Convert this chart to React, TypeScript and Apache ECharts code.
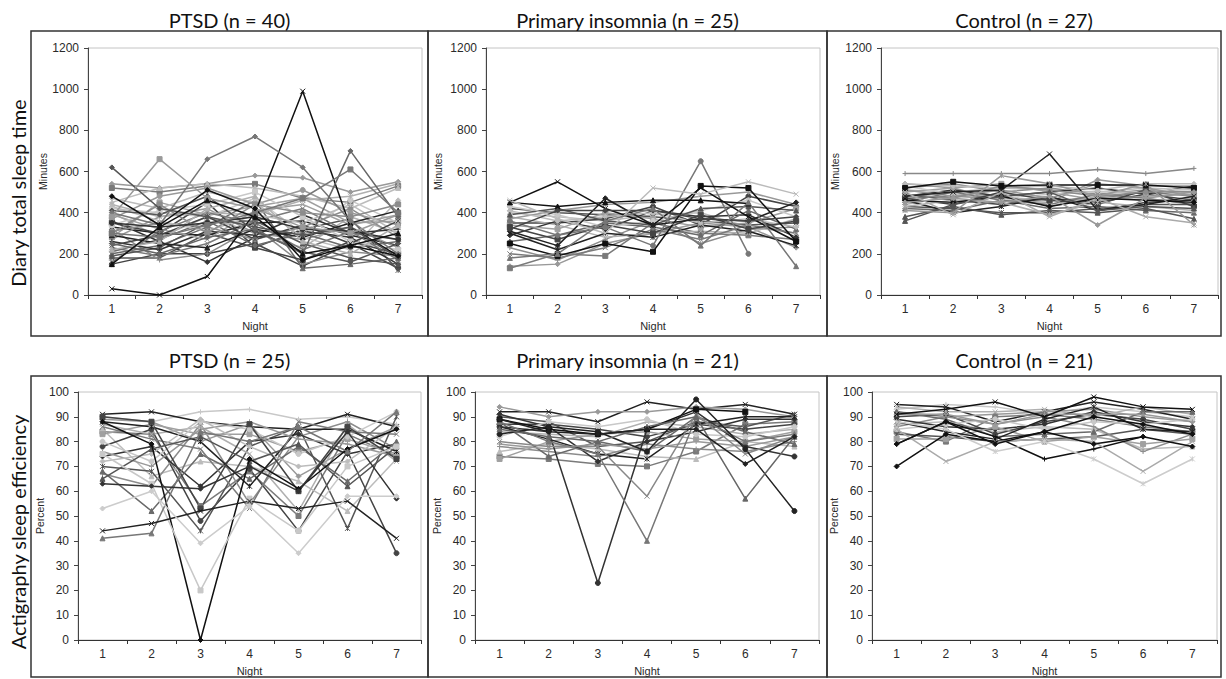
import React, { useEffect, useRef } from "react";
import * as echarts from "echarts";

// ---------- data ----------
const NIGHTS = ["1", "2", "3", "4", "5", "6", "7"];

const PANEL_TITLES = [
  "PTSD (n = 40)",
  "Primary insomnia (n = 25)",
  "Control (n = 27)",
  "PTSD (n = 25)",
  "Primary insomnia (n = 21)",
  "Control (n = 21)",
];
const ROW_TITLES = ["Diary total sleep time", "Actigraphy sleep efficiency"];
const Y_NAMES = ["Minutes", "Percent"];
const X_NAME = "Night";
const Y_RANGES = [
  { max: 1200, step: 200 },
  { max: 100, step: 10 },
];

// Diary total sleep time (minutes) – PTSD
const ptsdDiary: (number | null)[][] = [
  [30, 0, 90, 400, 990, 330, 190],
  [400, 340, 660, 770, 620, 360, 200],
  [620, 420, 380, 330, 290, 330, 180],
  [380, 660, 470, 420, 330, 300, 390],
  [250, 200, 280, 320, 200, 700, 380],
  [300, 280, 340, 400, 470, 610, 400],
  [480, 340, 510, 420, 170, 240, 190],
  [150, 330, 460, 380, 200, 240, 300],
  [540, 520, 540, 580, 570, 500, 550],
  [520, 500, 530, 540, 470, 450, 530],
  [450, 520, 540, 520, 480, 420, 520],
  [150, 200, 200, 250, 140, 250, 130],
  [180, 180, 300, 230, 320, 370, 120],
  [320, 170, 200, 330, 150, 210, 190],
  [400, 280, 380, 300, 230, 380, 300],
  [360, 260, 160, 280, 310, 280, 150],
  [280, 450, 390, 430, 470, 350, 360],
  [200, 240, 330, 460, 130, 150, 180],
  [420, 400, 380, 470, 300, 460, 350],
  [330, 300, 290, 350, 360, 290, 240],
  [270, 380, 420, 300, 270, 330, 230],
  [230, 190, 250, 360, 420, 300, 270],
  [470, 420, 500, 450, 280, 220, 460],
  [350, 300, 450, 230, 170, 260, 200],
  [190, 230, 350, 360, 250, 180, 150],
  [310, 350, 330, 270, 330, 420, 280],
  [440, 380, 400, 390, 460, 480, 540],
  [260, 220, 310, 290, 390, 300, 320],
  [390, 320, 270, 410, 440, 340, 390],
  [210, 270, 360, 240, 300, 230, 260],
  [340, 410, 440, 500, 380, 260, 220],
  [290, 250, 230, 320, 280, 350, 410],
  [370, 480, 520, 440, 510, 400, 340],
  [160, 310, 400, 350, 220, 310, 170],
  [430, 360, 310, 390, 350, 440, 300],
  [240, 290, 380, 270, 340, 250, 360],
  [410, 390, 480, 310, 210, 160, 250],
  [300, 440, 300, 440, 400, 380, 440],
  [220, 260, 420, 480, 260, 200, 340],
  [350, 330, 350, 380, 320, 310, 270],
];

// Diary total sleep time – Primary insomnia
const piDiary: (number | null)[][] = [
  [360, 290, 330, 240, 650, 200, null],
  [450, 550, 420, 340, 520, 380, 260],
  [250, 190, 250, 210, 530, 520, 260],
  [310, 240, 470, 340, 370, 360, 450],
  [450, 430, 450, 460, 460, 445, null],
  [320, 410, 410, 410, 370, 360, 380],
  [460, 370, 300, 520, 490, 550, 490],
  [180, 200, 360, 420, 240, 450, 140],
  [140, 150, 250, 300, 350, 330, 230],
  [130, 200, 190, 350, 300, 290, 270],
  [400, 380, 360, 390, 400, 330, 300],
  [350, 350, 370, 430, 340, 480, 430],
  [420, 400, 390, 380, 360, 340, 350],
  [230, 170, 270, 360, 250, 320, 330],
  [380, 340, 280, 300, 310, 300, 370],
  [290, 360, 320, 410, 380, 390, 280],
  [340, 320, 400, 370, 330, 350, 420],
  [260, 290, 350, 330, 290, 410, 320],
  [430, 390, 330, 360, 410, 460, 380],
  [300, 220, 300, 280, 340, 310, 240],
  [370, 410, 440, 450, 480, 500, 440],
  [200, 180, 230, 320, 270, 340, 300],
  [410, 360, 380, 400, 350, 370, 330],
  [330, 270, 340, 300, 390, 320, 360],
  [390, 420, 360, 340, 420, 430, 410],
];

// Diary total sleep time – Control
const ctrlDiary: (number | null)[][] = [
  [480, 500, 510, 685, 410, 440, 480],
  [590, 590, 590, 590, 610, 590, 615],
  [520, 550, 530, 535, 535, 535, 520],
  [460, 450, 480, 430, 470, 460, 450],
  [360, 440, 480, 500, 410, 430, 420],
  [410, 400, 580, 540, 480, 540, 340],
  [450, 470, 450, 480, 340, 470, 500],
  [500, 390, 500, 380, 470, 380, 350],
  [540, 520, 460, 450, 560, 530, 530],
  [470, 480, 470, 460, 470, 500, 480],
  [510, 500, 520, 510, 500, 520, 510],
  [490, 460, 440, 470, 450, 490, 460],
  [430, 420, 400, 400, 420, 440, 440],
  [520, 540, 500, 520, 490, 510, 500],
  [440, 480, 490, 430, 480, 460, 470],
  [480, 510, 480, 500, 520, 490, 530],
  [500, 520, 540, 500, 460, 480, 490],
  [420, 410, 460, 420, 430, 410, 400],
  [530, 490, 470, 490, 500, 500, 520],
  [460, 400, 430, 480, 410, 450, 460],
  [510, 480, 510, 470, 540, 520, 480],
  [450, 500, 460, 440, 490, 470, 440],
  [540, 530, 520, 530, 510, 540, 540],
  [470, 440, 500, 460, 440, 510, 430],
  [380, 430, 390, 410, 400, 420, 370],
  [490, 470, 530, 510, 480, 500, 500],
  [430, 460, 450, 390, 450, 430, 410],
];

// Actigraphy sleep efficiency (%) – PTSD
const ptsdActi: (number | null)[][] = [
  [88, 79, 0, 73, 61, 77, 85],
  [75, 63, 20, 57, 44, 70, 78],
  [41, 43, 84, 80, 86, 76, 92],
  [44, 47, 52, 56, 53, 56, 41],
  [63, 62, 61, 70, 60, 84, 57],
  [53, 60, 39, 54, 35, 58, 58],
  [90, 88, 92, 93, 89, 90, 87],
  [91, 92, 88, 86, 85, 91, 86],
  [89, 88, 80, 87, 66, 77, 86],
  [84, 83, 54, 68, 50, 83, 74],
  [85, 66, 72, 70, 64, 52, 73],
  [78, 85, 48, 69, 44, 76, 35],
  [70, 68, 44, 78, 86, 45, 90],
  [67, 62, 87, 55, 82, 88, 77],
  [87, 83, 86, 75, 52, 87, 72],
  [74, 78, 62, 80, 83, 75, 79],
  [83, 87, 83, 83, 76, 81, 75],
  [68, 52, 75, 65, 78, 64, 80],
  [80, 72, 88, 85, 75, 82, 92],
  [88, 86, 80, 62, 85, 85, 76],
  [76, 70, 85, 88, 81, 79, 74],
  [86, 81, 77, 53, 88, 84, 83],
  [72, 75, 89, 78, 70, 72, 86],
  [90, 88, 53, 87, 60, 86, 73],
  [65, 77, 82, 72, 79, 62, 78],
];

// Actigraphy sleep efficiency – Primary insomnia
const piActi: (number | null)[][] = [
  [86, 84, 23, 85, 92, 78, 74],
  [88, 80, 75, 40, 90, 80, 83],
  [89, 85, 83, 85, 93, 92, null],
  [80, 78, 78, 58, 91, 75, 82],
  [83, 86, 84, 76, 97, 77, 52],
  [85, 82, 80, 86, 90, 57, 82],
  [89, 84, 83, 85, 85, 71, 82],
  [92, 92, 88, 96, 93, 95, 91],
  [94, 90, 92, 92, 94, 93, 90],
  [74, 73, 71, 70, 76, 87, 88],
  [76, 79, 77, 74, 73, 80, 78],
  [87, 87, 85, 82, 87, 85, 87],
  [90, 88, 78, 80, 88, 86, 91],
  [78, 76, 74, 79, 77, 76, 80],
  [84, 83, 82, 88, 86, 83, 85],
  [91, 86, 72, 80, 84, 89, 89],
  [73, 80, 83, 84, 81, 80, 84],
  [88, 74, 80, 76, 90, 84, 79],
  [82, 88, 86, 89, 83, 82, 86],
  [86, 81, 75, 73, 87, 90, 90],
  [79, 77, 79, 77, 80, 78, 82],
];

// Actigraphy sleep efficiency – Control
const ctrlActi: (number | null)[][] = [
  [70, 83, 80, 84, 90, 87, 83],
  [79, 88, 82, 73, 77, 82, null],
  [85, 72, 80, 81, 80, 68, 80],
  [88, 85, 76, 80, 73, 63, 73],
  [91, 93, 96, 90, 98, 94, 93],
  [79, 88, 79, 84, 79, 82, 78],
  [93, 95, 94, 91, 94, 92, 90],
  [95, 94, 88, 92, 96, 93, 89],
  [92, 90, 91, 92, 93, 90, 88],
  [84, 80, 90, 91, 89, 86, 84],
  [87, 88, 84, 86, 85, 77, 78],
  [90, 91, 83, 88, 91, 89, 85],
  [83, 82, 80, 81, 82, 85, 83],
  [86, 90, 87, 90, 86, 76, 83],
  [94, 92, 92, 93, 90, 94, 91],
  [89, 86, 85, 87, 92, 88, 86],
  [81, 81, 86, 80, 82, 79, 81],
  [92, 89, 82, 83, 84, 92, 92],
  [85, 87, 89, 85, 88, 87, 89],
  [88, 84, 81, 89, 94, 85, 84],
  [91, 91, 87, 91, 91, 91, 88],
];

const PANELS = [ptsdDiary, piDiary, ctrlDiary, ptsdActi, piActi, ctrlActi];

// ---------- styles ----------
const GREYS = ["#555555", "#8c8c8c", "#b0b0b0", "#333333", "#a0a0a0", "#6a6a6a", "#c8c8c8", "#222222", "#999999", "#7a7a7a", "#bcbcbc", "#444444"];
const X_SYM = "path://M0,0L10,10M10,0L0,10";
const STAR_SYM = "path://M0,0L10,10M10,0L0,10M5,0L5,10";
const PLUS_SYM = "path://M5,0L5,10M0,5L10,5";
const MARKERS = [X_SYM, "diamond", "rect", "triangle", "circle", STAR_SYM, PLUS_SYM];

// [colour, marker index] for the first, most visible series of each panel
const STYLE_OVERRIDES: [string, number][][] = [
  [["#111", 0], ["#777", 1], ["#555", 1], ["#9a9a9a", 2], ["#666", 1], ["#777", 2], ["#111", 1], ["#111", 3]],
  [["#777", 4], ["#111", 0], ["#111", 2], ["#222", 1], ["#111", 3], ["#444", 1], ["#bbb", 0], ["#777", 3]],
  [["#222", 0], ["#888", 6], ["#111", 2], ["#111", 1], ["#555", 3], ["#999", 5], ["#999", 1], ["#aaa", 0]],
  [["#111", 1], ["#c8c8c8", 2], ["#777", 3], ["#222", 0], ["#333", 1], ["#ccc", 1]],
  [["#333", 4], ["#777", 3], ["#111", 2], ["#888", 0], ["#222", 4], ["#666", 3], ["#222", 1]],
  [["#111", 1], ["#111", 6], ["#aaa", 0], ["#ccc", 5], ["#111", 0], ["#111", 1]],
];

const GRIDS = [
  { left: 88, top: 48, width: 334, height: 247 },
  { left: 486, top: 48, width: 334, height: 247 },
  { left: 881, top: 48, width: 337, height: 247 },
  { left: 78, top: 392, width: 343, height: 248 },
  { left: 475, top: 392, width: 344, height: 248 },
  { left: 872, top: 392, width: 345, height: 248 },
];
const Y_NAME_GAPS = [40, 43, 41, 31, 33, 33];
const BOXES = [
  [31, 31, 428, 336],
  [428, 31, 827, 336],
  [827, 31, 1221, 336],
  [31, 376, 428, 677],
  [428, 376, 827, 677],
  [827, 376, 1221, 677],
];
const TITLE_Y = [20, 20, 20, 360, 360, 360];

const TICK_FONT = "Liberation Sans, Arial, sans-serif";
const TITLE_FONT = "Lato, 'Open Sans', sans-serif";

function buildOption() {
  const grid = GRIDS.map((g) => ({
    ...g,
    show: true,
    borderColor: "#c4c4c4",
    borderWidth: 1,
    containLabel: false,
  }));
  const xAxis = GRIDS.map((_, p) => ({
    type: "category",
    gridIndex: p,
    data: NIGHTS,
    boundaryGap: true,
    axisLine: { show: true, lineStyle: { color: "#333", width: 1 } },
    axisTick: { show: true, length: 4, lineStyle: { color: "#333" } },
    axisLabel: { fontSize: 12, color: "#2a2a2a", fontFamily: TICK_FONT, margin: 8 },
    name: X_NAME,
    nameLocation: "middle",
    nameGap: 25,
    nameTextStyle: { fontSize: 11, color: "#2a2a2a", fontFamily: TICK_FONT },
    splitLine: { show: false },
  }));
  const yAxis = GRIDS.map((_, p) => {
    const r = Y_RANGES[p < 3 ? 0 : 1];
    return {
      type: "value",
      gridIndex: p,
      min: 0,
      max: r.max,
      interval: r.step,
      axisLine: { show: true, lineStyle: { color: "#444", width: 1 } },
      axisTick: { show: true, length: 4, lineStyle: { color: "#444" } },
      axisLabel: {
        fontSize: 12,
        color: "#2a2a2a",
        fontFamily: TICK_FONT,
        margin: 9,
        formatter: (v: number) => String(v),
      },
      splitLine: { show: false },
      name: Y_NAMES[p < 3 ? 0 : 1],
      nameLocation: "middle",
      nameGap: Y_NAME_GAPS[p],
      nameRotate: 90,
      nameTextStyle: { fontSize: 10.5, color: "#2a2a2a", fontFamily: TICK_FONT },
    };
  });
  const series: any[] = [];
  PANELS.forEach((rows, p) => {
    rows.forEach((vals, i) => {
      const ov = STYLE_OVERRIDES[p][i];
      const c = ov ? ov[0] : GREYS[i % GREYS.length];
      const m = ov ? MARKERS[ov[1]] : MARKERS[i % MARKERS.length];
      series.push({
        type: "line",
        xAxisIndex: p,
        yAxisIndex: p,
        data: vals,
        symbol: m,
        symbolSize: 5,
        showSymbol: true,
        connectNulls: false,
        silent: true,
        lineStyle: { color: c, width: 1.5 },
        itemStyle: { color: c, borderColor: c, borderWidth: 1 },
        z: ov ? 4 : 3,
      });
    });
  });

  const graphic: any[] = [];
  BOXES.forEach(([x1, y1, x2, y2]) => {
    graphic.push({
      type: "rect",
      shape: { x: x1, y: y1, width: x2 - x1, height: y2 - y1 },
      style: { fill: "none", stroke: "#333", lineWidth: 1.5 },
      silent: true,
    });
  });
  PANEL_TITLES.forEach((t, p) => {
    const b = BOXES[p];
    graphic.push({
      type: "text",
      x: (b[0] + b[2]) / 2,
      y: TITLE_Y[p],
      style: {
        text: t,
        font: `20px ${TITLE_FONT}`,
        fill: "#111",
        textAlign: "center",
        textVerticalAlign: "middle",
      },
      silent: true,
    });
  });
  graphic.push({
    type: "text",
    x: 18,
    y: 193,
    rotation: Math.PI / 2,
    style: { text: ROW_TITLES[0], font: `20px ${TITLE_FONT}`, fill: "#111", textAlign: "center", textVerticalAlign: "middle" },
    silent: true,
  });
  graphic.push({
    type: "text",
    x: 18,
    y: 532,
    rotation: Math.PI / 2,
    style: { text: ROW_TITLES[1], font: `20px ${TITLE_FONT}`, fill: "#111", textAlign: "center", textVerticalAlign: "middle" },
    silent: true,
  });

  return {
    animation: false,
    backgroundColor: "#fff",
    grid,
    xAxis,
    yAxis,
    series,
    graphic,
  };
}

export default function App() {
  const ref = useRef<HTMLDivElement>(null);
  useEffect(() => {
    if (!ref.current) return;
    const chart = echarts.init(ref.current, null, { renderer: "svg" });
    chart.setOption(buildOption() as any);
    return () => chart.dispose();
  }, []);
  return (
    <div
      ref={ref}
      style={{ position: "fixed", left: 0, top: 0, width: 1226, height: 679, background: "#fff" }}
    />
  );
}
